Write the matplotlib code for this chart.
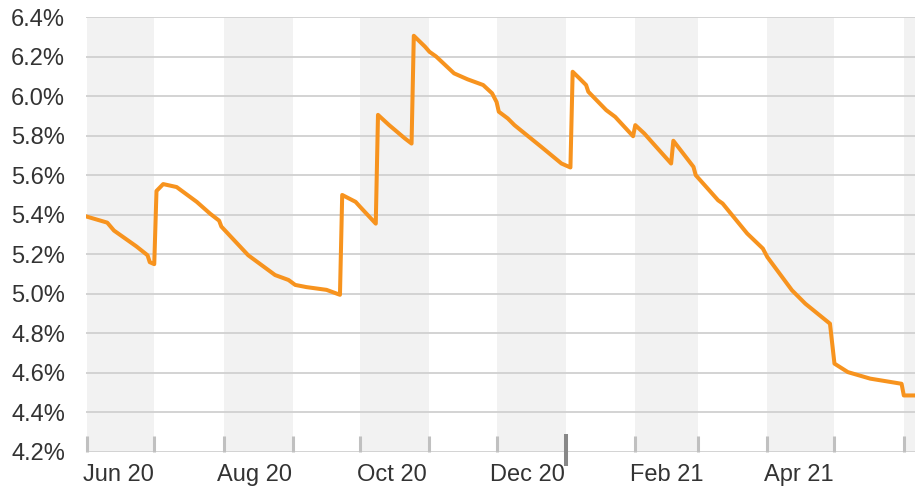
import pandas as pd
import numpy as np
import matplotlib
matplotlib.use('Agg')
import matplotlib.pyplot as plt
import matplotlib.dates as mdates
import matplotlib.transforms as mtransforms

plt.rcParams['font.family'] = ['Liberation Sans', 'DejaVu Sans']

# Rate series
dates = ['2020-06-01', '2020-06-10', '2020-06-13', '2020-06-23', '2020-06-28', '2020-06-29',
         '2020-07-01', '2020-07-02', '2020-07-05', '2020-07-11', '2020-07-20', '2020-07-26',
         '2020-07-30', '2020-07-31', '2020-08-12', '2020-08-24', '2020-08-30', '2020-09-02',
         '2020-09-07', '2020-09-16', '2020-09-22', '2020-09-23', '2020-09-29', '2020-10-01',
         '2020-10-08', '2020-10-09', '2020-10-14', '2020-10-21', '2020-10-24', '2020-10-25',
         '2020-10-30', '2020-11-01', '2020-11-04', '2020-11-12', '2020-11-18', '2020-11-25',
         '2020-11-29', '2020-12-01', '2020-12-02', '2020-12-06', '2020-12-09', '2020-12-21',
         '2020-12-30', '2021-01-03', '2021-01-04', '2021-01-07', '2021-01-10', '2021-01-11',
         '2021-01-19', '2021-01-23', '2021-01-31', '2021-02-01', '2021-02-05', '2021-02-09',
         '2021-02-17', '2021-02-18', '2021-02-27', '2021-02-28', '2021-03-06', '2021-03-10',
         '2021-03-12', '2021-03-23', '2021-03-30', '2021-04-01', '2021-04-12', '2021-04-18',
         '2021-04-29', '2021-05-01', '2021-05-07', '2021-05-17', '2021-05-31', '2021-06-01',
         '2021-06-06']
rates = [5.39, 5.36, 5.32, 5.24, 5.195, 5.16,
         5.15, 5.52, 5.555, 5.54, 5.465, 5.405,
         5.37, 5.34, 5.195, 5.095, 5.07, 5.045,
         5.034, 5.02, 4.995, 5.50, 5.465, 5.44,
         5.355, 5.905, 5.853, 5.786, 5.76, 6.305,
         6.25, 6.224, 6.20, 6.115, 6.085, 6.056,
         6.014, 5.97, 5.921, 5.887, 5.853, 5.743,
         5.659, 5.639, 6.123, 6.09, 6.056, 6.022,
         5.929, 5.895, 5.797, 5.853, 5.811, 5.76,
         5.659, 5.774, 5.642, 5.60, 5.524, 5.473,
         5.457, 5.305, 5.229, 5.186, 5.018, 4.95,
         4.849, 4.647, 4.604, 4.571, 4.545, 4.486,
         4.486]

y_ticks = [4.2, 4.4, 4.6, 4.8, 5.0, 5.2, 5.4, 5.6, 5.8, 6.0, 6.2, 6.4]
month_labels = ['Jun 20', 'Aug 20', 'Oct 20', 'Dec 20', 'Feb 21', 'Apr 21']

x = pd.to_datetime(dates)

fig = plt.figure(figsize=(9.15, 4.92), dpi=100)
ax = fig.add_axes([86 / 915, 40 / 492, 829 / 915, 435 / 492])

start = pd.Timestamp('2020-05-31 12:00')
end = pd.Timestamp('2021-06-06')
ax.set_xlim(start, end)
ax.set_ylim(4.2, 6.4)

# alternating month bands
month_starts = pd.date_range('2020-06-01', '2021-07-01', freq='MS')
for i in range(0, len(month_starts) - 1, 2):
    ax.axvspan(month_starts[i], month_starts[i + 1], color='#f2f2f2', lw=0, zorder=0)

for yv in y_ticks:
    ax.axhline(yv, color='#d3d3d3', lw=1.4, zorder=1)

ax.plot(x, rates, color='#f7931e', lw=2.9, zorder=3, solid_joinstyle='round')

for s in ax.spines.values():
    s.set_visible(False)

ax.set_yticks(y_ticks)
ax.set_yticklabels(['%.1f%%' % v for v in y_ticks])
ax.tick_params(axis='y', length=0, pad=15, labelsize=17, labelcolor='#333333')

# month boundary ticks
trans = mtransforms.blended_transform_factory(ax.transData, ax.transAxes)
ax.set_xticks([])
for m in month_starts[:-1]:
    if m == pd.Timestamp('2021-01-01'):
        ax.plot([m, m], [0.041, -0.032], color='#888888', lw=2.9, transform=trans,
                clip_on=False, zorder=4, solid_capstyle='butt')
    else:
        ax.plot([m, m], [0.0, 0.036], color='#c0c0c0', lw=2.2, transform=trans,
                clip_on=False, zorder=4, solid_capstyle='butt')

# labels under the shaded months
label_pos = [month_starts[i] + pd.Timedelta(days=14) for i in range(0, 12, 2)]
for pos, lab in zip(label_pos, month_labels):
    ax.text(pos, -0.053, lab, transform=trans, ha='center', va='center',
            fontsize=17, color='#333333')

fig.savefig('out.png', dpi=100)
